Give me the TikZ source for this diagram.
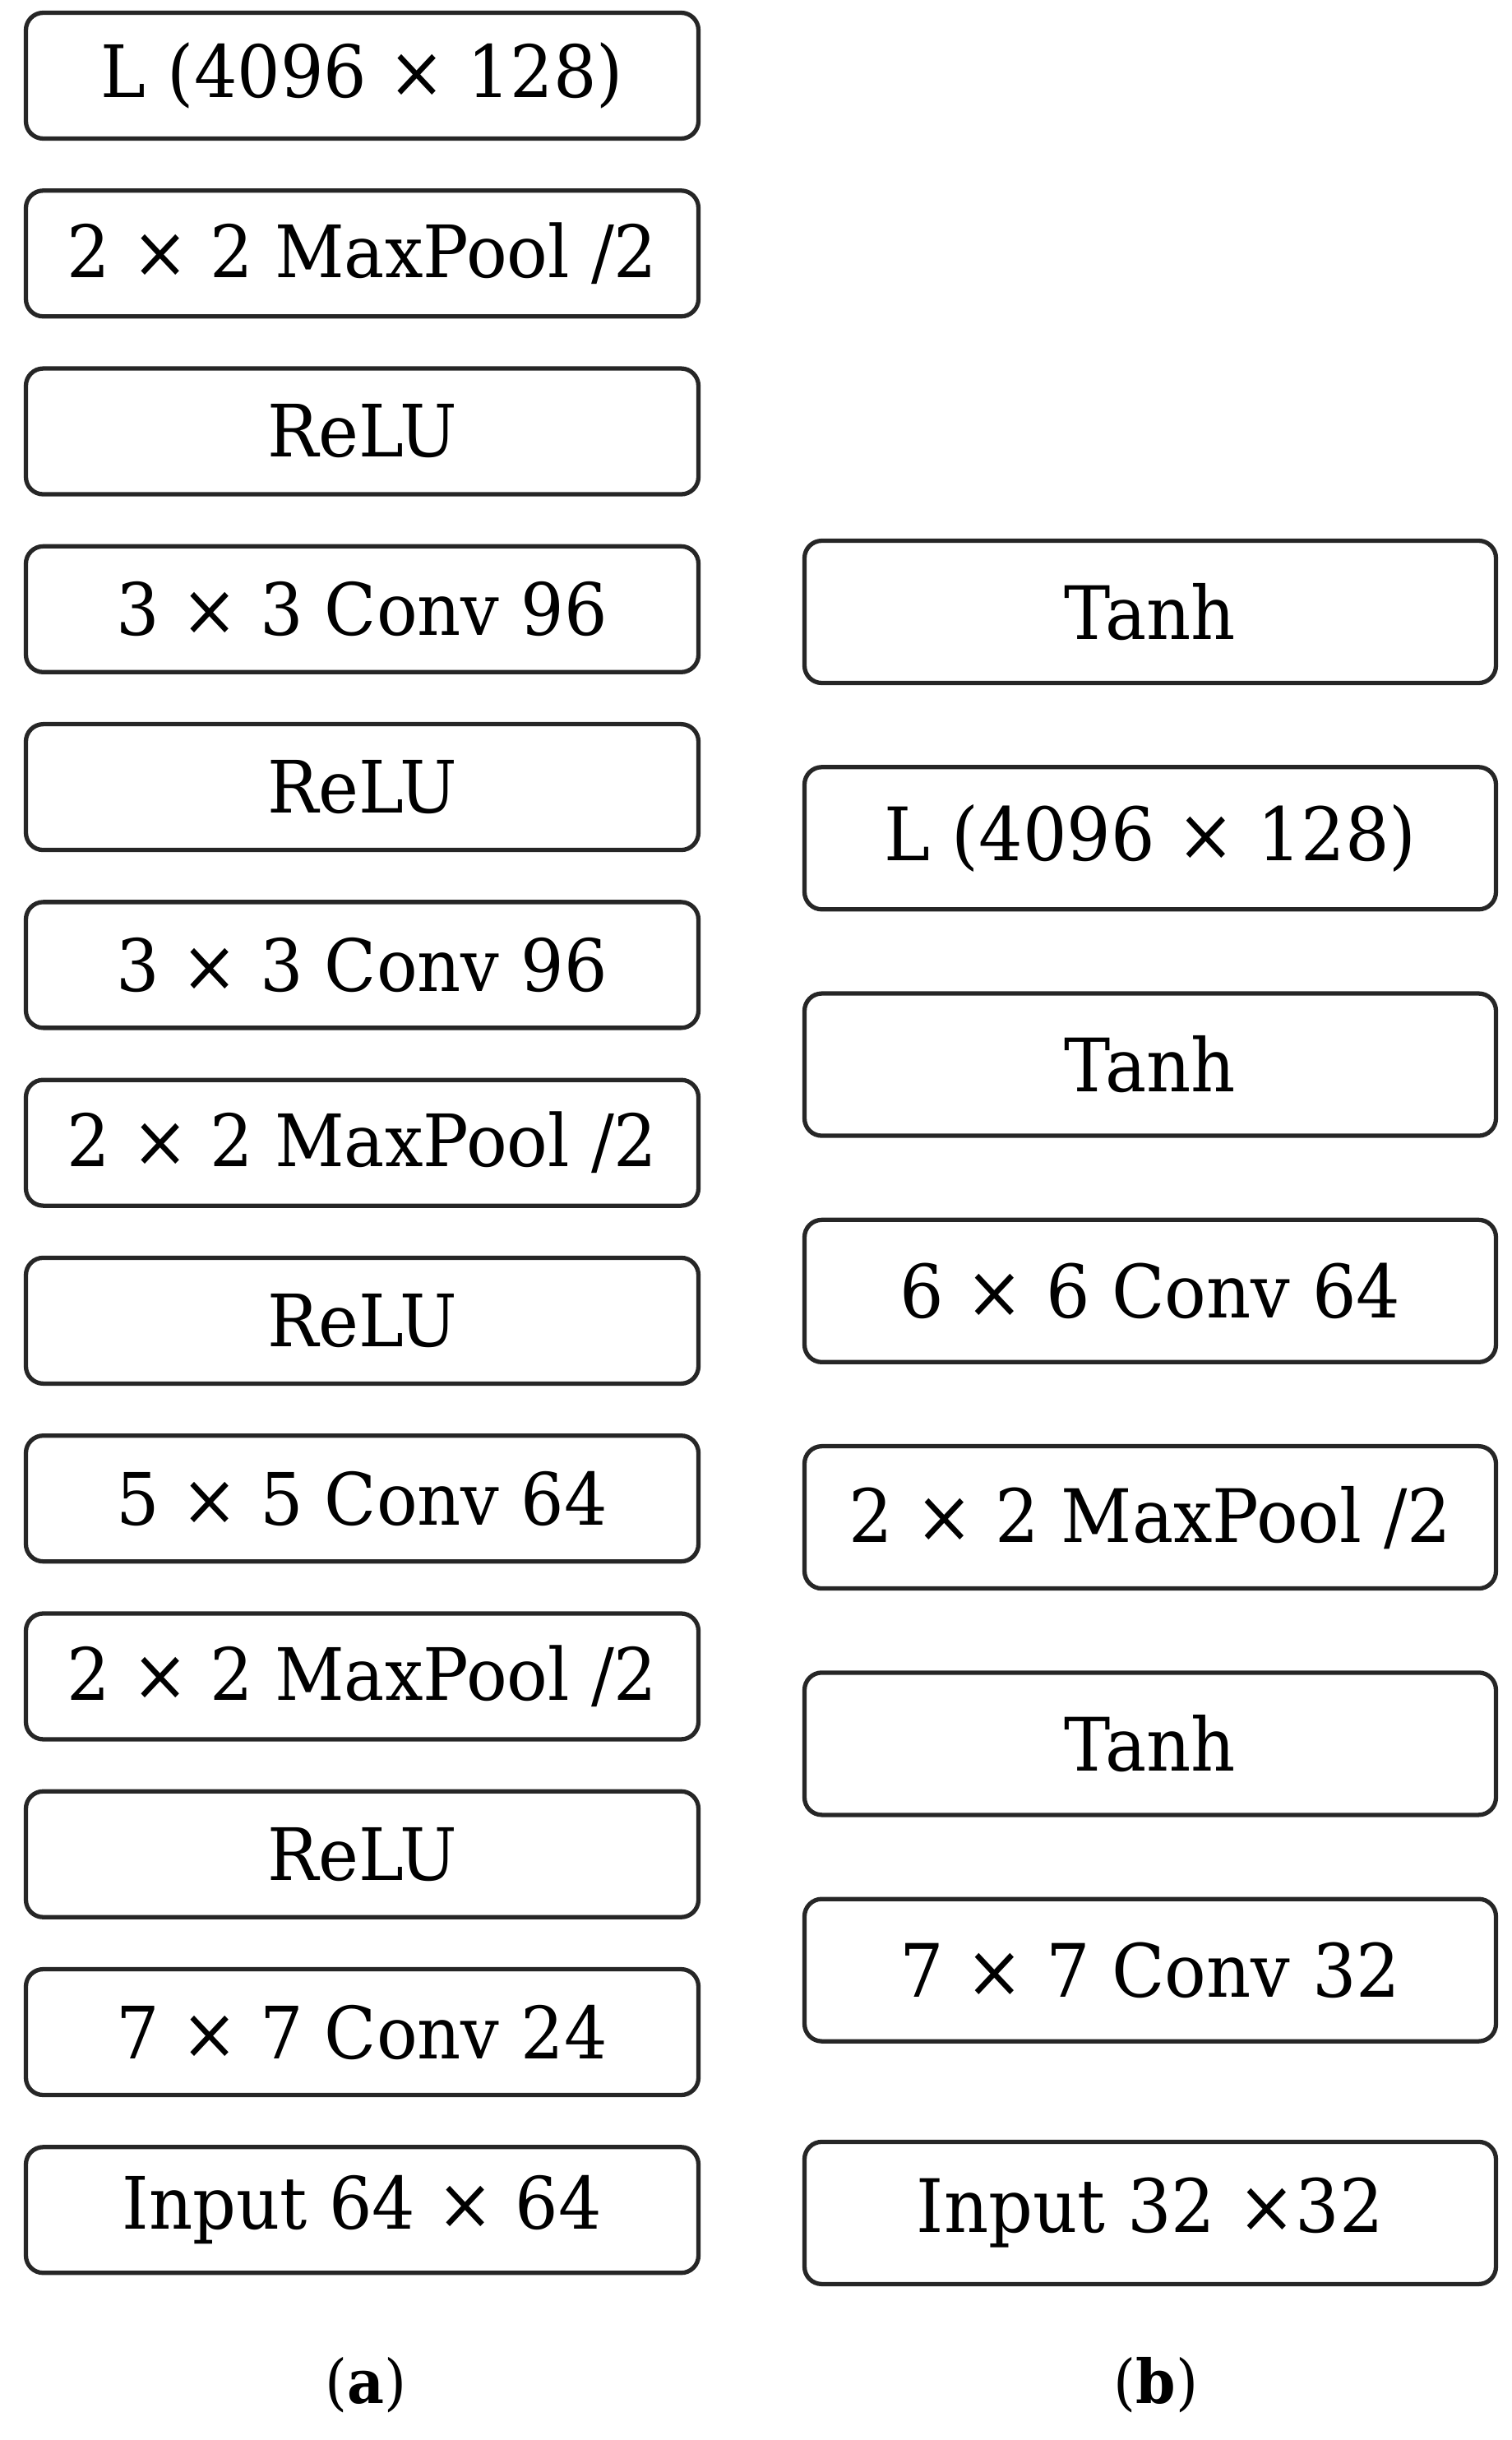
\documentclass[tikz,border=0pt]{standalone}
\usepackage{fontspec}
\setmainfont{DejaVu Serif}[FakeStretch=0.94]
\usepackage{tikz}
\usetikzlibrary{positioning}

\begin{document}
\begin{tikzpicture}[
  % --- styles ------------------------------------------------------------
  layer/.style={
    rectangle, draw=black!85, line width=1.5pt, rounded corners=6pt,
    minimum width=8.18cm, minimum height=1.53cm, inner sep=0pt,
    font=\fontsize{25}{30}\selectfont, align=center
  },
  layerb/.style={
    layer, minimum width=8.41cm, minimum height=1.73cm,
    font=\fontsize{25.5}{30}\selectfont
  },
  sublabel/.style={font=\fontsize{21}{25}\selectfont},
  node distance = 0.58cm
]
\useasboundingbox (0,0) rectangle (18.39,-29.67);

% --------------------- column (a) ---------------------------------------
\node[layer] (a0) at (4.405,-0.92) {L (4096 × 128)};
\node[layer, below=of a0] (a1) {2 × 2 MaxPool /2};
\node[layer, below=of a1] (a2) {ReLU};
\node[layer, below=of a2] (a3) {3 × 3 Conv 96};
\node[layer, below=of a3] (a4) {ReLU};
\node[layer, below=of a4] (a5) {3 × 3 Conv 96};
\node[layer, below=of a5] (a6) {2 × 2 MaxPool /2};
\node[layer, below=of a6] (a7) {ReLU};
\node[layer, below=of a7] (a8) {5 × 5 Conv 64};
\node[layer, below=of a8] (a9) {2 × 2 MaxPool /2};
\node[layer, below=of a9] (a10) {ReLU};
\node[layer, below=of a10] (a11) {7 × 7 Conv 24};
\node[layer, below=of a11] (a12) {Input 64 × 64};

% --------------------- column (b) ---------------------------------------
\node[layerb] (b0) at (13.99,-7.44) {Tanh};
\node[layerb, below=0.97cm of b0] (b1) {L (4096 × 128)};
\node[layerb, below=0.97cm of b1] (b2) {Tanh};
\node[layerb, below=0.97cm of b2] (b3) {6 × 6 Conv 64};
\node[layerb, below=0.97cm of b3] (b4) {2 × 2 MaxPool /2};
\node[layerb, below=0.97cm of b4] (b5) {Tanh};
\node[layerb, below=0.97cm of b5] (b6) {7 × 7 Conv 32};
\node[layerb, below=1.17cm of b6] (b7) {Input 32 ×32};

% --------------------- captions -----------------------------------------
\node[sublabel] (capa) at (4.45,-29.0) {(\textbf{a})};
\node[sublabel] (capb) at (14.06,-29.0) {(\textbf{b})};

\end{tikzpicture}
\end{document}
